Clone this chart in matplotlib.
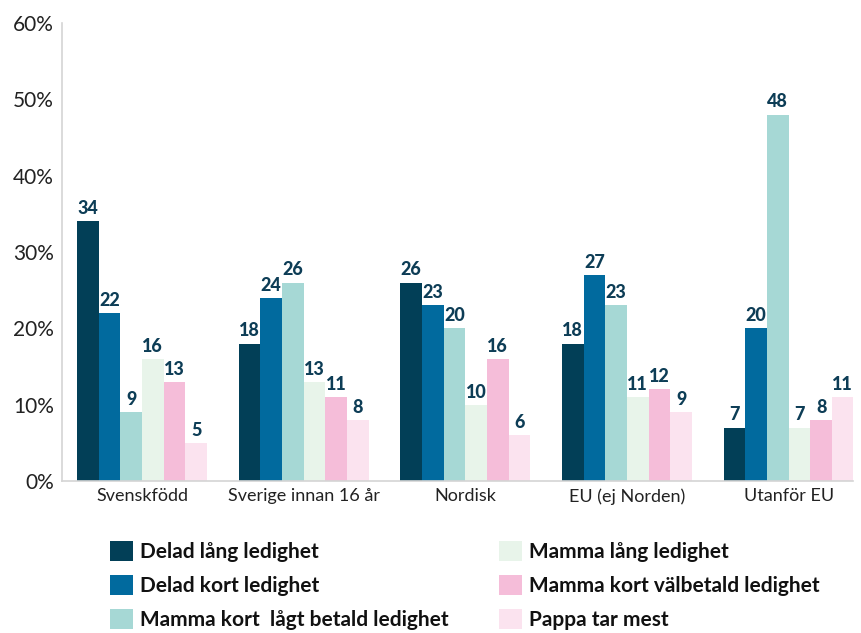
import matplotlib.pyplot as plt
import numpy as np

# ------------------------------------------------------------------------------
# data
groups = ['Svenskfödd', 'Sverige innan 16 år', 'Nordisk', 'EU (ej Norden)', 'Utanför EU']
series = ['Delad lång ledighet',
          'Delad kort ledighet',
          'Mamma kort  lågt betald ledighet',
          'Mamma lång ledighet',
          'Mamma kort välbetald ledighet',
          'Pappa tar mest']
delad_lang   = [34, 18, 26, 18,  7]
delad_kort   = [22, 24, 23, 27, 20]
mamma_lagt   = [ 9, 26, 20, 23, 48]
mamma_lang   = [16, 13, 10, 11,  7]
mamma_valbet = [13, 11, 16, 12,  8]
pappa_mest   = [ 5,  8,  6,  9, 11]
values = [delad_lang, delad_kort, mamma_lagt, mamma_lang, mamma_valbet, pappa_mest]
yticks = [0, 10, 20, 30, 40, 50, 60]

colors = ['#023f57', '#016a9e', '#a6d8d5', '#e8f4ea', '#f5bdd9', '#fbe3ef']
label_color = '#0d3d56'

plt.rcParams['font.family'] = ['Lato', 'DejaVu Sans']

# ------------------------------------------------------------------------------
fig = plt.figure(figsize=(8.61, 6.33), dpi=100)
ax  = fig.add_axes([0.072, 0.24, 0.919, 0.7237])

x     = np.arange(len(groups))
width = 0.134
handles = []
for i, (vals, col) in enumerate(zip(values, colors)):
    pos  = x + (i - 2.5) * width
    bars = ax.bar(pos, vals, width, color=col, label=series[i])
    ax.bar_label(bars, labels=[str(v) for v in vals], padding=3,
                 color=label_color, fontsize=13, fontweight='black')
    handles.append(bars)

ax.set_ylim(0, 60)
ax.set_xlim(-0.495, 4.40)
ax.set_yticks(yticks)
ax.set_yticklabels(['%d%%' % t for t in yticks], fontsize=15, color='#222222')
ax.set_xticks(x)
ax.set_xticklabels(groups, fontsize=13, color='#222222')
ax.tick_params(axis='x', length=0, pad=5)
ax.tick_params(axis='y', length=0, pad=6)

for s in ['top', 'right']:
    ax.spines[s].set_visible(False)
for s in ['left', 'bottom']:
    ax.spines[s].set_color('#d4d4d4')
    ax.spines[s].set_linewidth(1.2)

leg = fig.legend(handles, series,
                 loc='upper left', bbox_to_anchor=(0.106, 0.175),
                 ncol=2, frameon=False,
                 prop={'weight': 'bold', 'size': 15},
                 handlelength=1.1, handleheight=1.1, handletextpad=0.35,
                 columnspacing=2.4, labelspacing=0.62)
for t in leg.get_texts():
    t.set_color('#111111')

fig.savefig('out.png', dpi=100)
